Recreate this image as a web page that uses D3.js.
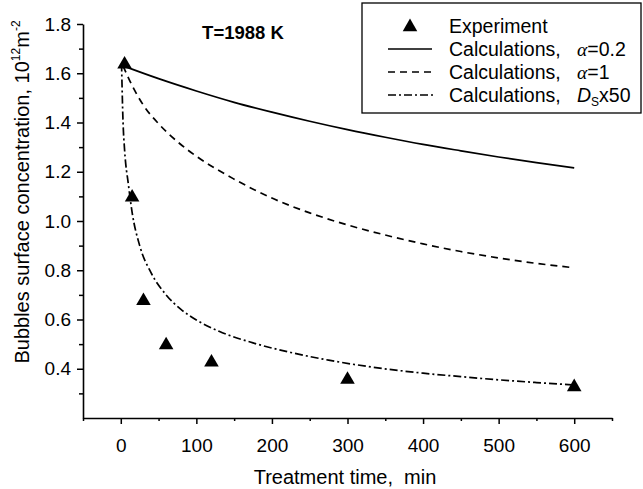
<!DOCTYPE html>
<html>
<head>
<meta charset="utf-8">
<script src="https://cdn.jsdelivr.net/npm/d3@7"></script>
<style>
  body { margin: 0; background: #fff; }
  text { font-family: "Liberation Sans", Arial, sans-serif; fill: #000; }
</style>
</head>
<body>
<div id="chart"></div>
<script>
// experiment points (treatment time, min / concentration, 1e12 m^-2)
var expTime = [5, 15, 30, 60, 120, 300, 600];
var expConc = [1.64, 1.10, 0.68, 0.50, 0.43, 0.36, 0.33];

// calculations, alpha = 0.2
var alpha02 = [[3,1.63],[50,1.578],[100,1.528],[150,1.482],[200,1.442],[250,1.405],[300,1.371],[350,1.34],[400,1.311],[450,1.285],[500,1.26],[550,1.237],[600,1.216]];
// calculations, alpha = 1
var alpha1 = [[3,1.63],[15,1.55],[30,1.47],[50,1.395],[75,1.322],[100,1.263],[150,1.17],[200,1.093],[250,1.033],[300,0.984],[350,0.943],[400,0.907],[450,0.876],[500,0.85],[550,0.828],[600,0.81]];
// calculations, Ds x 50
var ds50 = [[1,1.64],[3,1.40],[5,1.29],[10,1.15],[15,1.035],[25,0.90],[40,0.79],[60,0.70],[80,0.64],[100,0.598],[130,0.552],[175,0.505],[225,0.466],[275,0.435],[325,0.41],[400,0.382],[450,0.368],[500,0.355],[550,0.344],[600,0.334]];

var xMajor = [0, 100, 200, 300, 400, 500, 600];
var xMinor = [-50, 50, 150, 250, 350, 450, 550, 650];
var yMajor = [0.4, 0.6, 0.8, 1.0, 1.2, 1.4, 1.6, 1.8];
var yMinor = [0.3, 0.5, 0.7, 0.9, 1.1, 1.3, 1.5, 1.7];

var W = 643, H = 489;
var svg = d3.select("#chart").append("svg").attr("width", W).attr("height", H);

var x = d3.scaleLinear().domain([-50, 650]).range([83, 612]);
var y = d3.scaleLinear().domain([0.2, 1.8]).range([418, 24]);

// axes
var gx = svg.append("g").attr("transform", "translate(0," + y(0.2) + ")");
gx.call(d3.axisBottom(x).tickValues(xMajor).tickSize(6).tickSizeOuter(0).tickFormat(d3.format("d")));
gx.append("g").call(d3.axisBottom(x).tickValues(xMinor).tickSize(3).tickSizeOuter(0).tickFormat(""))
  .select(".domain").remove();

var gy = svg.append("g").attr("transform", "translate(" + x(-50) + ",0)");
gy.call(d3.axisLeft(y).tickValues(yMajor).tickSize(6).tickSizeOuter(0).tickFormat(d3.format(".1f")));
gy.append("g").call(d3.axisLeft(y).tickValues(yMinor).tickSize(4).tickSizeOuter(0).tickFormat(""))
  .select(".domain").remove();

svg.selectAll(".domain").attr("stroke", "#000").attr("stroke-width", 1.6);
svg.selectAll(".tick line").attr("stroke", "#000").attr("stroke-width", 1.5);
gx.selectAll(".tick text").attr("font-size", 19).attr("dy", "1.3em").attr("font-family", "Liberation Sans");
gy.selectAll(".tick text").attr("font-size", 19).attr("dx", "-3px").attr("font-family", "Liberation Sans");

// curves
var line = d3.line().x(function(d) { return x(d[0]); }).y(function(d) { return y(d[1]); }).curve(d3.curveMonotoneX);

svg.append("path").datum(alpha02).attr("d", line)
  .attr("fill", "none").attr("stroke", "#000").attr("stroke-width", 1.7);
svg.append("path").datum(alpha1).attr("d", line)
  .attr("fill", "none").attr("stroke", "#000").attr("stroke-width", 1.7).attr("stroke-dasharray", "7,5");
svg.append("path").datum(ds50).attr("d", line)
  .attr("fill", "none").attr("stroke", "#000").attr("stroke-width", 1.7).attr("stroke-dasharray", "8,3,2,3");

// experiment markers
var tri = d3.symbol().type(d3.symbolTriangle).size(92);
svg.selectAll("path.pt").data(expTime).enter().append("path")
  .attr("class", "pt")
  .attr("d", tri)
  .attr("transform", function(d, i) { return "translate(" + x(d) + "," + (y(expConc[i]) + 1) + ")"; })
  .attr("fill", "#000");

// title
svg.append("text").attr("x", 243).attr("y", 39).attr("text-anchor", "middle")
  .attr("font-size", 18.5).attr("font-weight", "bold").text("T=1988 K");

// axis labels
svg.append("text").attr("x", 345).attr("y", 484).attr("text-anchor", "middle")
  .attr("font-size", 20).text("Treatment time,\u00a0 min");

var yl = svg.append("text").attr("transform", "translate(29," + 192 + ") rotate(-90)")
  .attr("text-anchor", "middle").attr("font-size", 20);
yl.append("tspan").text("Bubbles surface concentration, 10");
yl.append("tspan").attr("font-size", 12).attr("dy", -9).text("12");
yl.append("tspan").attr("dy", 9).text("m");
yl.append("tspan").attr("font-size", 12).attr("dy", -9).text("-2");

// legend
var lg = svg.append("g");
lg.append("rect").attr("x", 362).attr("y", 3).attr("width", 279).attr("height", 110)
  .attr("fill", "#fff").attr("stroke", "#000").attr("stroke-width", 1.3);

var rowY = [26, 49, 72, 95];
lg.append("path").attr("d", tri).attr("transform", "translate(410," + (rowY[0] + 1) + ")").attr("fill", "#000");
lg.append("line").attr("x1", 388).attr("x2", 432).attr("y1", rowY[1]).attr("y2", rowY[1])
  .attr("stroke", "#000").attr("stroke-width", 1.7);
lg.append("line").attr("x1", 388).attr("x2", 433).attr("y1", rowY[2]).attr("y2", rowY[2])
  .attr("stroke", "#000").attr("stroke-width", 1.7).attr("stroke-dasharray", "7,5");
lg.append("line").attr("x1", 388).attr("x2", 433).attr("y1", rowY[3]).attr("y2", rowY[3])
  .attr("stroke", "#000").attr("stroke-width", 1.7).attr("stroke-dasharray", "8,3,2,3");

lg.append("text").attr("x", 449).attr("y", rowY[0] + 7).attr("font-size", 19.5).text("Experiment");
[1, 2, 3].forEach(function(k) {
  lg.append("text").attr("x", 449).attr("y", rowY[k] + 7).attr("font-size", 19.5).text("Calculations,");
});
var t1 = lg.append("text").attr("x", 577).attr("y", rowY[1] + 7).attr("font-size", 19.5);
t1.append("tspan").attr("font-family", "Liberation Serif").attr("font-style", "italic").text("\u03b1");
t1.append("tspan").text("=0.2");
var t2 = lg.append("text").attr("x", 577).attr("y", rowY[2] + 7).attr("font-size", 19.5);
t2.append("tspan").attr("font-family", "Liberation Serif").attr("font-style", "italic").text("\u03b1");
t2.append("tspan").text("=1");
var t3 = lg.append("text").attr("x", 577).attr("y", rowY[3] + 7).attr("font-size", 19.5);
t3.append("tspan").attr("font-style", "italic").text("D");
t3.append("tspan").attr("font-size", 12).attr("dy", 4).text("S");
t3.append("tspan").attr("dy", -4).text("x50");
</script>
</body>
</html>
